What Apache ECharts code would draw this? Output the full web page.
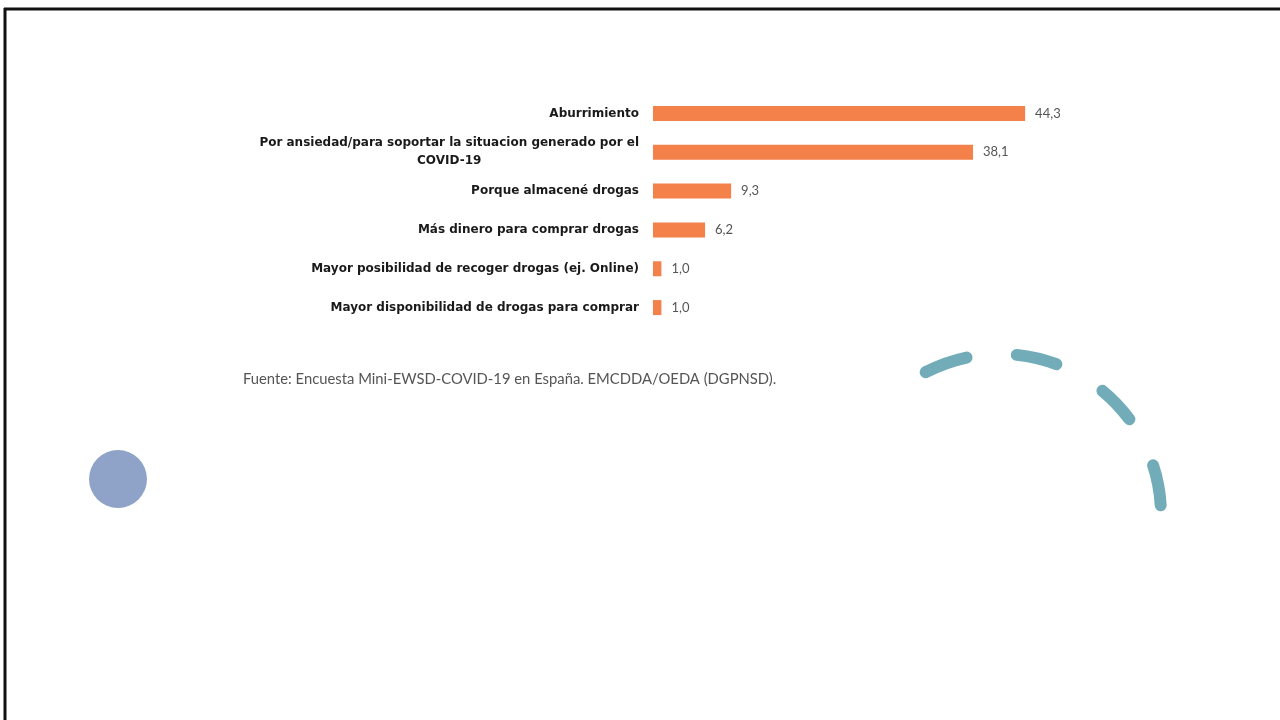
<!DOCTYPE html>
<html>
<head>
<meta charset="utf-8">
<style>
  html, body { margin: 0; padding: 0; background: #ffffff; }
  #chart { width: 1280px; height: 720px; }
</style>
<script src="https://cdn.jsdelivr.net/npm/echarts@6/dist/echarts.min.js"></script>
</head>
<body>
<div id="chart"></div>
<script>
// Motivos de aumento del consumo (%)
const categories = [
  'Aburrimiento',
  'Por ansiedad/para soportar la situacion generado por el\nCOVID-19',
  'Porque almacené drogas',
  'Más dinero para comprar drogas',
  'Mayor posibilidad de recoger drogas (ej. Online)',
  'Mayor disponibilidad de drogas para comprar'
];
const values = [44.3, 38.1, 9.3, 6.2, 1.0, 1.0];
const sourceNote = 'Fuente: Encuesta Mini-EWSD-COVID-19 en España. EMCDDA/OEDA (DGPNSD).';

const chart = echarts.init(document.getElementById('chart'), null, { renderer: 'canvas' });

const deg = Math.PI / 180;
// dashed decorative arc, drawn as separate rounded strokes
const arcDashes = [[-117.5, -102], [-84, -69.5], [-50.5, -36.5], [-18, -3.5]];

const labelFont = { fontFamily: 'DejaVu Sans', fontSize: 12, fontWeight: 'bold', color: '#1a1a1a', lineHeight: 18 };

const option = {
  backgroundColor: '#ffffff',
  animation: false,
  title: {
    text: sourceNote,
    left: 238,
    top: 367,
    textStyle: { fontFamily: 'Lato', fontSize: 14.8, fontWeight: 'normal', color: '#555555' }
  },
  grid: { left: 653, top: 94, width: 420, height: 233, containLabel: false },
  xAxis: {
    type: 'value',
    min: 0,
    max: 50,
    show: false
  },
  yAxis: {
    type: 'category',
    inverse: true,
    data: categories,
    axisLine: { show: false },
    axisTick: { show: false },
    splitLine: { show: false },
    axisLabel: Object.assign({
      margin: 14,
      formatter: function (v) {
        return v.split('\n').map(function (s) { return '{c|' + s + '}'; }).join('\n');
      },
      rich: { c: Object.assign({ align: 'center' }, labelFont) }
    }, labelFont)
  },
  series: [{
    type: 'bar',
    data: values,
    barWidth: 15,
    itemStyle: { color: '#f4804a' },
    label: {
      show: true,
      position: 'right',
      distance: 10,
      fontFamily: 'Lato',
      fontSize: 13,
      color: '#555555',
      formatter: function (p) { return p.value.toFixed(1).replace('.', ','); }
    }
  }],
  graphic: [
    // slide frame
    { type: 'line', shape: { x1: 4, y1: 9, x2: 1280, y2: 9 }, style: { stroke: '#111111', lineWidth: 3 } },
    { type: 'line', shape: { x1: 5, y1: 8, x2: 5, y2: 720 }, style: { stroke: '#111111', lineWidth: 3 } },
    // decorative circle
    { type: 'circle', shape: { cx: 118, cy: 479, r: 29 }, style: { fill: '#8fa3c8' } }
  ].concat(arcDashes.map(function (a) {
    return {
      type: 'arc',
      shape: { cx: 1000, cy: 515, r: 161, startAngle: a[0] * deg, endAngle: a[1] * deg, clockwise: true },
      style: { stroke: '#72acb9', lineWidth: 12, lineCap: 'round', fill: null }
    };
  }))
};

chart.setOption(option);
</script>
</body>
</html>
